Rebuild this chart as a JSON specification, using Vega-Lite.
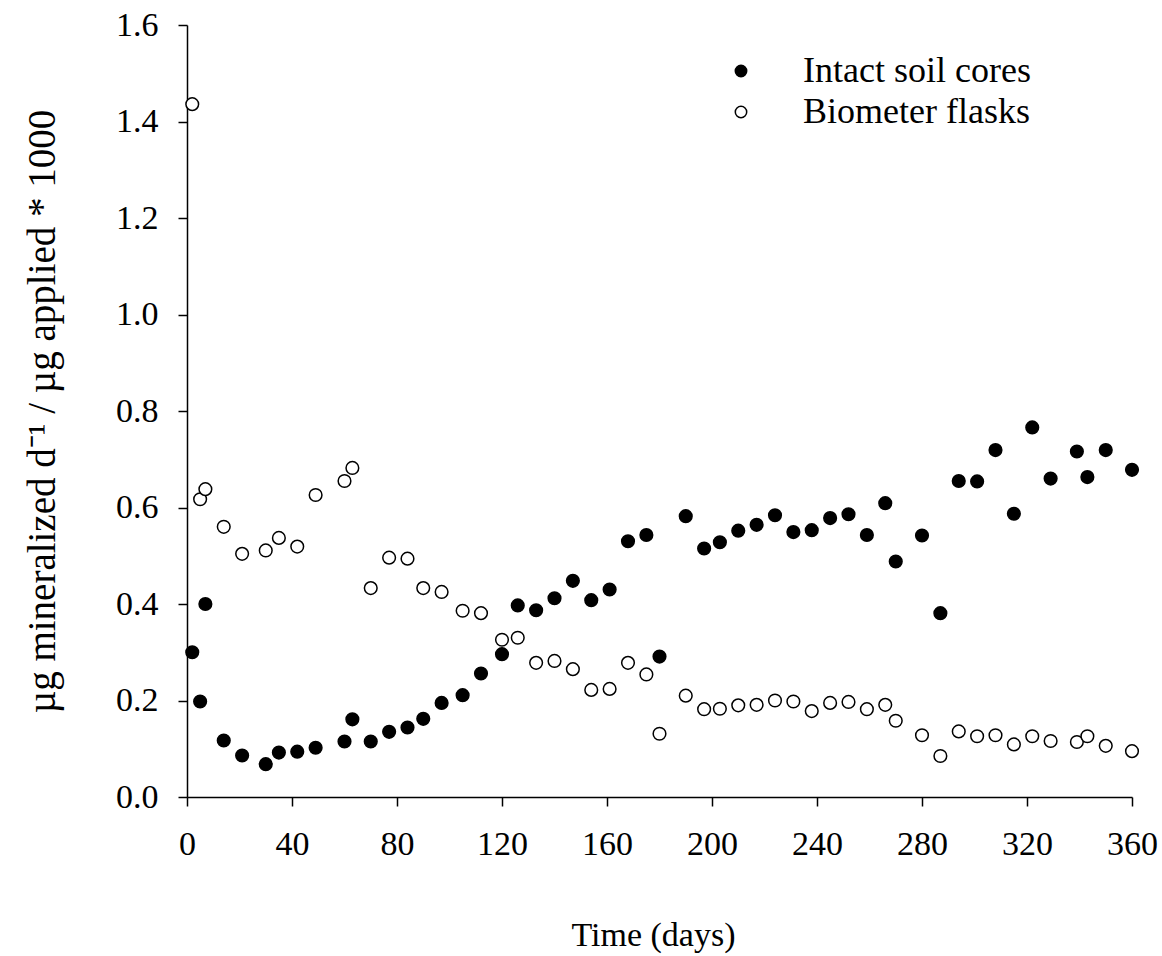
{
  "$schema": "https://vega.github.io/schema/vega-lite/v6.json",
  "autosize": {"type": "none"},
  "width": 945,
  "height": 772,
  "padding": {"left": 187, "top": 25, "right": 30, "bottom": 159},
  "background": "white",
  "config": {
    "view": {"stroke": null},
    "font": "Liberation Serif",
    "axis": {
      "grid": false,
      "domainColor": "black",
      "domainWidth": 1.5,
      "tickColor": "black",
      "tickWidth": 1.5,
      "tickSize": 9,
      "labelFont": "Liberation Serif",
      "labelFontSize": 34,
      "labelColor": "black",
      "labelFlush": false,
      "labelOverlap": false,
      "titleFont": "Liberation Serif",
      "titleFontSize": 34,
      "titleFontWeight": "normal",
      "titleColor": "black"
    },
    "legend": {
      "labelFont": "Liberation Serif",
      "labelFontSize": 36,
      "labelColor": "black",
      "labelLimit": 500
    }
  },
  "data": {
    "values": [
      {"day": 2, "value": 0.300, "series": "Intact soil cores"},
      {"day": 5, "value": 0.198, "series": "Intact soil cores"},
      {"day": 7, "value": 0.400, "series": "Intact soil cores"},
      {"day": 14, "value": 0.117, "series": "Intact soil cores"},
      {"day": 21, "value": 0.086, "series": "Intact soil cores"},
      {"day": 30, "value": 0.068, "series": "Intact soil cores"},
      {"day": 35, "value": 0.092, "series": "Intact soil cores"},
      {"day": 42, "value": 0.094, "series": "Intact soil cores"},
      {"day": 49, "value": 0.102, "series": "Intact soil cores"},
      {"day": 60, "value": 0.115, "series": "Intact soil cores"},
      {"day": 63, "value": 0.161, "series": "Intact soil cores"},
      {"day": 70, "value": 0.115, "series": "Intact soil cores"},
      {"day": 77, "value": 0.135, "series": "Intact soil cores"},
      {"day": 84, "value": 0.144, "series": "Intact soil cores"},
      {"day": 90, "value": 0.162, "series": "Intact soil cores"},
      {"day": 97, "value": 0.195, "series": "Intact soil cores"},
      {"day": 105, "value": 0.211, "series": "Intact soil cores"},
      {"day": 112, "value": 0.256, "series": "Intact soil cores"},
      {"day": 120, "value": 0.296, "series": "Intact soil cores"},
      {"day": 126, "value": 0.397, "series": "Intact soil cores"},
      {"day": 133, "value": 0.387, "series": "Intact soil cores"},
      {"day": 140, "value": 0.412, "series": "Intact soil cores"},
      {"day": 147, "value": 0.448, "series": "Intact soil cores"},
      {"day": 154, "value": 0.408, "series": "Intact soil cores"},
      {"day": 161, "value": 0.430, "series": "Intact soil cores"},
      {"day": 168, "value": 0.530, "series": "Intact soil cores"},
      {"day": 175, "value": 0.543, "series": "Intact soil cores"},
      {"day": 180, "value": 0.291, "series": "Intact soil cores"},
      {"day": 190, "value": 0.582, "series": "Intact soil cores"},
      {"day": 197, "value": 0.515, "series": "Intact soil cores"},
      {"day": 203, "value": 0.528, "series": "Intact soil cores"},
      {"day": 210, "value": 0.552, "series": "Intact soil cores"},
      {"day": 217, "value": 0.564, "series": "Intact soil cores"},
      {"day": 224, "value": 0.584, "series": "Intact soil cores"},
      {"day": 231, "value": 0.549, "series": "Intact soil cores"},
      {"day": 238, "value": 0.553, "series": "Intact soil cores"},
      {"day": 245, "value": 0.578, "series": "Intact soil cores"},
      {"day": 252, "value": 0.586, "series": "Intact soil cores"},
      {"day": 259, "value": 0.543, "series": "Intact soil cores"},
      {"day": 266, "value": 0.609, "series": "Intact soil cores"},
      {"day": 270, "value": 0.488, "series": "Intact soil cores"},
      {"day": 280, "value": 0.542, "series": "Intact soil cores"},
      {"day": 287, "value": 0.381, "series": "Intact soil cores"},
      {"day": 294, "value": 0.655, "series": "Intact soil cores"},
      {"day": 301, "value": 0.654, "series": "Intact soil cores"},
      {"day": 308, "value": 0.719, "series": "Intact soil cores"},
      {"day": 315, "value": 0.587, "series": "Intact soil cores"},
      {"day": 322, "value": 0.766, "series": "Intact soil cores"},
      {"day": 329, "value": 0.660, "series": "Intact soil cores"},
      {"day": 339, "value": 0.716, "series": "Intact soil cores"},
      {"day": 343, "value": 0.663, "series": "Intact soil cores"},
      {"day": 350, "value": 0.719, "series": "Intact soil cores"},
      {"day": 360, "value": 0.678, "series": "Intact soil cores"},
      {"day": 2, "value": 1.436, "series": "Biometer flasks"},
      {"day": 5, "value": 0.617, "series": "Biometer flasks"},
      {"day": 7, "value": 0.638, "series": "Biometer flasks"},
      {"day": 14, "value": 0.560, "series": "Biometer flasks"},
      {"day": 21, "value": 0.504, "series": "Biometer flasks"},
      {"day": 30, "value": 0.511, "series": "Biometer flasks"},
      {"day": 35, "value": 0.537, "series": "Biometer flasks"},
      {"day": 42, "value": 0.519, "series": "Biometer flasks"},
      {"day": 49, "value": 0.626, "series": "Biometer flasks"},
      {"day": 60, "value": 0.655, "series": "Biometer flasks"},
      {"day": 63, "value": 0.682, "series": "Biometer flasks"},
      {"day": 70, "value": 0.433, "series": "Biometer flasks"},
      {"day": 77, "value": 0.496, "series": "Biometer flasks"},
      {"day": 84, "value": 0.494, "series": "Biometer flasks"},
      {"day": 90, "value": 0.433, "series": "Biometer flasks"},
      {"day": 97, "value": 0.425, "series": "Biometer flasks"},
      {"day": 105, "value": 0.386, "series": "Biometer flasks"},
      {"day": 112, "value": 0.381, "series": "Biometer flasks"},
      {"day": 120, "value": 0.326, "series": "Biometer flasks"},
      {"day": 126, "value": 0.330, "series": "Biometer flasks"},
      {"day": 133, "value": 0.278, "series": "Biometer flasks"},
      {"day": 140, "value": 0.282, "series": "Biometer flasks"},
      {"day": 147, "value": 0.265, "series": "Biometer flasks"},
      {"day": 154, "value": 0.222, "series": "Biometer flasks"},
      {"day": 161, "value": 0.224, "series": "Biometer flasks"},
      {"day": 168, "value": 0.278, "series": "Biometer flasks"},
      {"day": 175, "value": 0.254, "series": "Biometer flasks"},
      {"day": 180, "value": 0.131, "series": "Biometer flasks"},
      {"day": 190, "value": 0.210, "series": "Biometer flasks"},
      {"day": 197, "value": 0.182, "series": "Biometer flasks"},
      {"day": 203, "value": 0.183, "series": "Biometer flasks"},
      {"day": 210, "value": 0.190, "series": "Biometer flasks"},
      {"day": 217, "value": 0.191, "series": "Biometer flasks"},
      {"day": 224, "value": 0.200, "series": "Biometer flasks"},
      {"day": 231, "value": 0.198, "series": "Biometer flasks"},
      {"day": 238, "value": 0.178, "series": "Biometer flasks"},
      {"day": 245, "value": 0.195, "series": "Biometer flasks"},
      {"day": 252, "value": 0.197, "series": "Biometer flasks"},
      {"day": 259, "value": 0.182, "series": "Biometer flasks"},
      {"day": 266, "value": 0.191, "series": "Biometer flasks"},
      {"day": 270, "value": 0.158, "series": "Biometer flasks"},
      {"day": 280, "value": 0.128, "series": "Biometer flasks"},
      {"day": 287, "value": 0.085, "series": "Biometer flasks"},
      {"day": 294, "value": 0.136, "series": "Biometer flasks"},
      {"day": 301, "value": 0.126, "series": "Biometer flasks"},
      {"day": 308, "value": 0.128, "series": "Biometer flasks"},
      {"day": 315, "value": 0.109, "series": "Biometer flasks"},
      {"day": 322, "value": 0.126, "series": "Biometer flasks"},
      {"day": 329, "value": 0.116, "series": "Biometer flasks"},
      {"day": 339, "value": 0.114, "series": "Biometer flasks"},
      {"day": 343, "value": 0.126, "series": "Biometer flasks"},
      {"day": 350, "value": 0.106, "series": "Biometer flasks"},
      {"day": 360, "value": 0.095, "series": "Biometer flasks"}
    ]
  },
  "mark": {"type": "point", "shape": "circle", "filled": true, "stroke": "black", "strokeWidth": 1.5, "opacity": 1, "size": 160},
  "encoding": {
    "x": {
      "field": "day",
      "type": "quantitative",
      "scale": {"domain": [0, 360], "nice": false, "zero": false},
      "axis": {
        "title": "Time (days)",
        "values": [0, 40, 80, 120, 160, 200, 240, 280, 320, 360],
        "labelPadding": 21,
        "labelBaseline": "top",
        "labelFlush": false,
        "titleFont": "Liberation Serif",
        "titleX": 466,
        "titleY": 148,
        "titleBaseline": "alphabetic",
        "titleAnchor": null
      }
    },
    "y": {
      "field": "value",
      "type": "quantitative",
      "scale": {"domain": [0, 1.6], "nice": false},
      "axis": {
        "title": "µg mineralized d⁻¹ / µg applied * 1000",
        "titleFont": "Liberation Serif",
        "titleFontSize": 39,
        "values": [0, 0.2, 0.4, 0.6, 0.8, 1.0, 1.2, 1.4, 1.6],
        "format": ".1f",
        "labelPadding": 20,
        "titleX": -145,
        "titleY": 386,
        "titleBaseline": "middle",
        "titleAngle": -90
      }
    },
    "fill": {
      "field": "series",
      "type": "nominal",
      "scale": {"domain": ["Intact soil cores", "Biometer flasks"], "range": ["black", "white"]},
      "legend": {
        "title": null,
        "orient": "none",
        "legendX": 536,
        "legendY": 28,
        "symbolType": "circle",
        "symbolSize": 130,
        "symbolStrokeColor": "black",
        "symbolStrokeWidth": 1.5,
        "labelOffset": 44,
        "labelLimit": 500,
        "rowPadding": 5,
        "padding": 0
      }
    }
  }
}
